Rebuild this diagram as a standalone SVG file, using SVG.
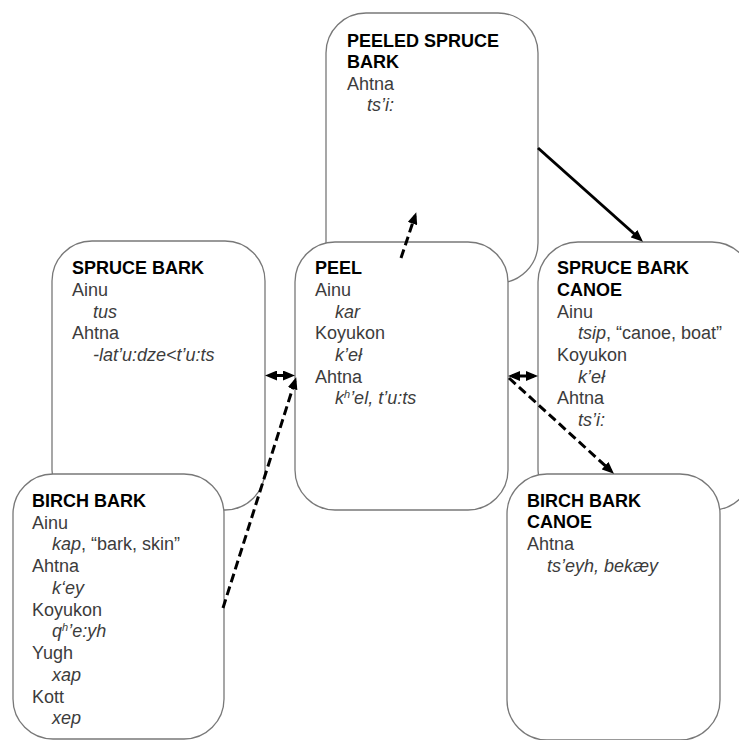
<svg xmlns="http://www.w3.org/2000/svg" width="739" height="740" viewBox="0 0 739 740">
  <style>
    .box { fill: #ffffff; stroke: #787878; stroke-width: 1.3; }
    text { font-family: "Liberation Sans", Arial, sans-serif; font-size: 18px; fill: #3c3c3c; }
    .title { font-weight: bold; fill: #000000; }
    .form { font-style: italic; }
    .sup { font-size: 11px; }
    .link { fill: none; stroke: #000000; stroke-width: 3; }
    .dash { stroke-dasharray: 9 4.5; }
  </style>
  <defs>
    <marker id="head" viewBox="0 0 12 10" refX="8" refY="5" markerWidth="12" markerHeight="10" markerUnits="userSpaceOnUse" orient="auto-start-reverse">
      <path d="M0,0 L12,5 L0,10 z" fill="#000000"/>
    </marker>
  </defs>

  <g id="node-peeled-spruce-bark">
    <rect class="box" x="326" y="13" width="212" height="270" rx="40" ry="40"/>
    <text class="title" x="347" y="47">PEELED SPRUCE</text>
    <text class="title" x="347" y="68">BARK</text>
    <text x="347" y="90">Ahtna</text>
    <text class="form" x="367" y="111">ts’i:</text>
  </g>

  <g id="node-spruce-bark">
    <rect class="box" x="52" y="241" width="213" height="269" rx="40" ry="40"/>
    <text class="title" x="72" y="274">SPRUCE BARK</text>
    <text x="72" y="296">Ainu</text>
    <text class="form" x="93" y="317.5">tus</text>
    <text x="72" y="339">Ahtna</text>
    <text class="form" x="93" y="361">-lat’u:dze&lt;t’u:ts</text>
  </g>

  <g id="node-spruce-bark-canoe">
    <rect class="box" x="538" y="242" width="214" height="268" rx="40" ry="40"/>
    <text class="title" x="557" y="274">SPRUCE BARK</text>
    <text class="title" x="557" y="296">CANOE</text>
    <text x="557" y="318">Ainu</text>
    <text x="578" y="339"><tspan class="form">tsip</tspan>, “canoe, boat”</text>
    <text x="557" y="361">Koyukon</text>
    <text class="form" x="578" y="383">k’eł</text>
    <text x="557" y="404">Ahtna</text>
    <text class="form" x="578" y="426">ts’i:</text>
  </g>

  <g id="node-peel">
    <rect class="box" x="295" y="242" width="213" height="268" rx="40" ry="40"/>
    <text class="title" x="315" y="274">PEEL</text>
    <text x="315" y="296">Ainu</text>
    <text class="form" x="335" y="318">kar</text>
    <text x="315" y="339">Koyukon</text>
    <text class="form" x="335" y="361">k’eł</text>
    <text x="315" y="383">Ahtna</text>
    <text class="form" x="335" y="404">k<tspan class="sup" dy="-6">h</tspan><tspan dy="6">’el, t’u:ts</tspan></text>
  </g>

  <g id="node-birch-bark">
    <rect class="box" x="13" y="474" width="211" height="265" rx="40" ry="40"/>
    <text class="title" x="32" y="507">BIRCH BARK</text>
    <text x="32" y="529">Ainu</text>
    <text x="52" y="550"><tspan class="form">kap</tspan>, “bark, skin”</text>
    <text x="32" y="572">Ahtna</text>
    <text class="form" x="52" y="594">k‘ey</text>
    <text x="32" y="616">Koyukon</text>
    <text class="form" x="52" y="637">q<tspan class="sup" dy="-6">h</tspan><tspan dy="6">’e:yh</tspan></text>
    <text x="32" y="659">Yugh</text>
    <text class="form" x="52" y="681">xap</text>
    <text x="32" y="703">Kott</text>
    <text class="form" x="52" y="724">xep</text>
  </g>

  <g id="node-birch-bark-canoe">
    <rect class="box" x="507" y="474" width="213" height="266" rx="40" ry="40"/>
    <text class="title" x="527" y="507">BIRCH BARK</text>
    <text class="title" x="527" y="528">CANOE</text>
    <text x="527" y="550">Ahtna</text>
    <text class="form" x="547" y="572">ts’eyh, bekæy</text>
  </g>

  <g id="connectors">
    <!-- peeled spruce bark to spruce bark canoe -->
    <line class="link" x1="538" y1="148" x2="640" y2="239" marker-end="url(#head)"/>
    <!-- peel to peeled spruce bark -->
    <line class="link dash" x1="401" y1="258" x2="415" y2="216" marker-end="url(#head)"/>
    <!-- spruce bark and peel -->
    <line class="link" x1="269" y1="375.5" x2="291" y2="375.5" marker-start="url(#head)" marker-end="url(#head)"/>
    <!-- birch bark to peel -->
    <line class="link dash" x1="223" y1="608" x2="295" y2="381" marker-end="url(#head)"/>
    <!-- peel and spruce bark canoe -->
    <line class="link" x1="512" y1="376" x2="534" y2="376" marker-start="url(#head)" marker-end="url(#head)"/>
    <!-- peel to birch bark canoe -->
    <line class="link dash" x1="509" y1="378" x2="611" y2="471" marker-end="url(#head)"/>
  </g>
</svg>
